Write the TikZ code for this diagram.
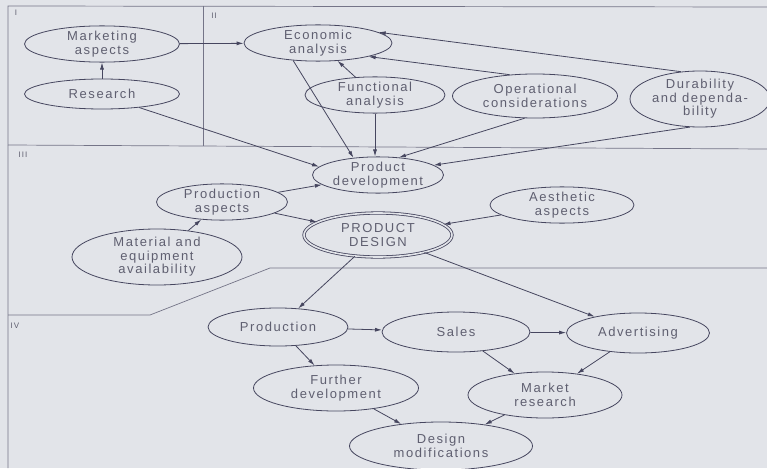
\documentclass[tikz,border=0pt]{standalone}
\usepackage{fontspec}
\setmainfont{Liberation Sans}[LetterSpace=12]
\usetikzlibrary{shapes.geometric,arrows.meta}
\definecolor{lc}{RGB}{70,70,95}
\definecolor{tc}{RGB}{95,95,112}
\definecolor{bg}{RGB}{226,228,233}
\begin{document}
\begin{tikzpicture}[x=1pt,y=-1pt,
  bub/.style={ellipse, draw=lc, line width=0.8pt, inner sep=0pt, text=tc, align=center,
    font=\fontsize{13}{13.5}\selectfont},
  arr/.style={-{Latex[length=7pt,width=4pt]}, draw=lc, line width=0.8pt},
  reg/.style={draw=lc!75, line width=0.7pt},
  lab/.style={text=tc, font=\fontsize{8}{8}\selectfont, inner sep=0pt}]
\useasboundingbox (0,0) rectangle (767,468);
\fill[bg] (0,0) rectangle (767,468);
% regions
\draw[reg] (767,7) -- (8,6) -- (8,468);
\draw[reg] (203,6) -- (203,146);
\draw[reg] (8,145) -- (767,149);
\draw[reg] (8,315) -- (150,315) -- (270,268) -- (767,268);
\node[lab] (l1) at (16,13) {I};
\node[lab] (l2) at (214,16) {II};
\node[lab] (l3) at (23,155) {III};
\node[lab] (l4) at (15,326) {IV};
% nodes
\node[bub, minimum width=155pt, minimum height=32pt] (ma) at (102,44) {Marketing\\aspects};
\node[bub, minimum width=155pt, minimum height=30pt] (re) at (102,94) {Research};
\node[bub, minimum width=148pt, minimum height=34pt] (ea) at (318,43) {Economic\\analysis};
\node[bub, minimum width=140pt, minimum height=36pt] (fa) at (375,95) {Functional\\analysis};
\node[bub, minimum width=165pt, minimum height=44pt] (oc) at (535,96) {Operational\\considerations};
\node[bub, minimum width=140pt, minimum height=56pt] (du) at (700,99) {Durability\\and dependa-\\bility};
\node[bub, minimum width=131pt, minimum height=36pt] (pd) at (378,175) {Product\\development};
\node[bub, minimum width=131pt, minimum height=36pt] (pa) at (222,202) {Production\\aspects};
\node[bub, minimum width=170pt, minimum height=56pt] (me) at (157,257) {Material and\\equipment\\availability};
\node[bub, double=bg, double distance=1.6pt, minimum width=148pt, minimum height=44pt] (ds) at (378,235) {PRODUCT\\DESIGN};
\node[bub, minimum width=144pt, minimum height=36pt] (ae) at (562,205) {Aesthetic\\aspects};
\node[bub, minimum width=140pt, minimum height=38pt] (pr) at (278,327) {Production};
\node[bub, minimum width=148pt, minimum height=40pt] (sa) at (456,332) {Sales};
\node[bub, minimum width=143pt, minimum height=40pt] (ad) at (638,333) {Advertising};
\node[bub, minimum width=165pt, minimum height=46pt] (fd) at (336,388) {Further\\development};
\node[bub, minimum width=154pt, minimum height=46pt] (mr) at (545,395) {Market\\research};
\node[bub, minimum width=183pt, minimum height=48pt] (dm) at (441,446) {Design\\modifications};
% connectors
\draw[arr] (ma) -- (ea);
\draw[arr] (re) -- (ma);
\draw[arr] (re.-20) -- (pd.172);
\draw[arr] (ea.215) -- (pd.145);
\draw[arr] (fa) -- (ea);
\draw[arr] (fa) -- (pd.north -| fa.south);
\draw[arr] (oc.140) -- (ea.-15);
\draw[arr] (du.125) -- (ea.10);
\draw[arr] (oc.245) -- (pd.40);
\draw[arr] (du.250) -- (pd.10);
\draw[arr] (pa) -- (pd);
\draw[arr] (pa) -- (ds);
\draw[arr] (me) -- (pa);
\draw[arr] (ae) -- (ds);
\draw[arr] (ds) -- (pr);
\draw[arr] (ds) -- (ad);
\draw[arr] (pr) -- (sa);
\draw[arr] (sa) -- (ad);
\draw[arr] (pr) -- (fd);
\draw[arr] (sa) -- (mr);
\draw[arr] (ad) -- (mr);
\draw[arr] (fd) -- (dm);
\draw[arr] (mr) -- (dm);
\end{tikzpicture}
\end{document}
